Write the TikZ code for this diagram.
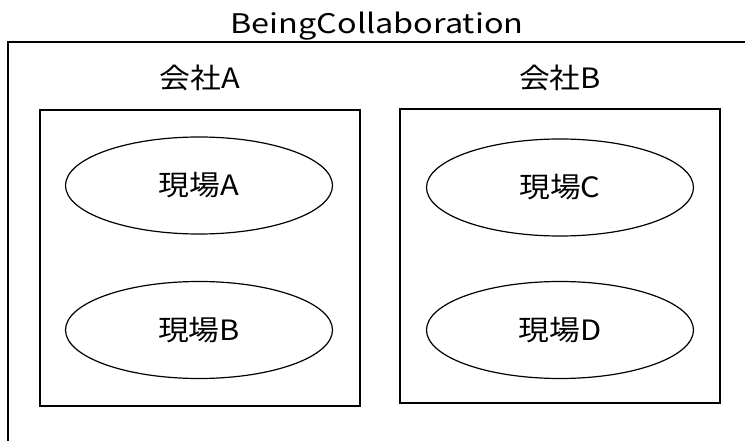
\documentclass[tikz,border=0pt]{standalone}
\usepackage{fontspec}
\setmainfont{Noto Sans CJK JP}
\usetikzlibrary{shapes.geometric}
\tikzset{
  site/.style={draw, line width=1.2pt, ellipse, minimum width=267pt, minimum height=97pt, inner sep=0pt},
  company/.style={draw, line width=1.4pt, rectangle, inner sep=0pt},
  lbl/.style={inner sep=0pt},
}
\newcommand{\lbltext}[1]{\scalebox{1.1}[1]{\fontsize{28}{30}\selectfont #1}}
\begin{document}
\begin{tikzpicture}[x=1pt,y=-1pt]
\useasboundingbox (0,0) rectangle (745,441);
\coordinate (fr) at (745,42);
\coordinate (fl) at (8,42);
\coordinate (fb) at (8,441);
\draw[line width=1.4pt] (fr) -- (fl) -- (fb);
\node[lbl] (title) at (377,26) {\scalebox{1.2}[1]{\fontsize{27}{30}\selectfont BeingCollaboration}};
\node[lbl] (ca) at (200,78) {\lbltext{会社A}};
\node[lbl] (cb) at (560,78) {\lbltext{会社B}};
\node[company, minimum width=320pt, minimum height=296pt] (boxa) at (200,258) {};
\node[company, minimum width=320pt, minimum height=294pt] (boxb) at (560,256) {};
\node[site] (sa) at (199,185.5) {\lbltext{現場A}};
\node[site] (sb) at (199,330) {\lbltext{現場B}};
\node[site] (sc) at (560,187.5) {\lbltext{現場C}};
\node[site] (sd) at (560,330) {\lbltext{現場D}};
\end{tikzpicture}
\end{document}
